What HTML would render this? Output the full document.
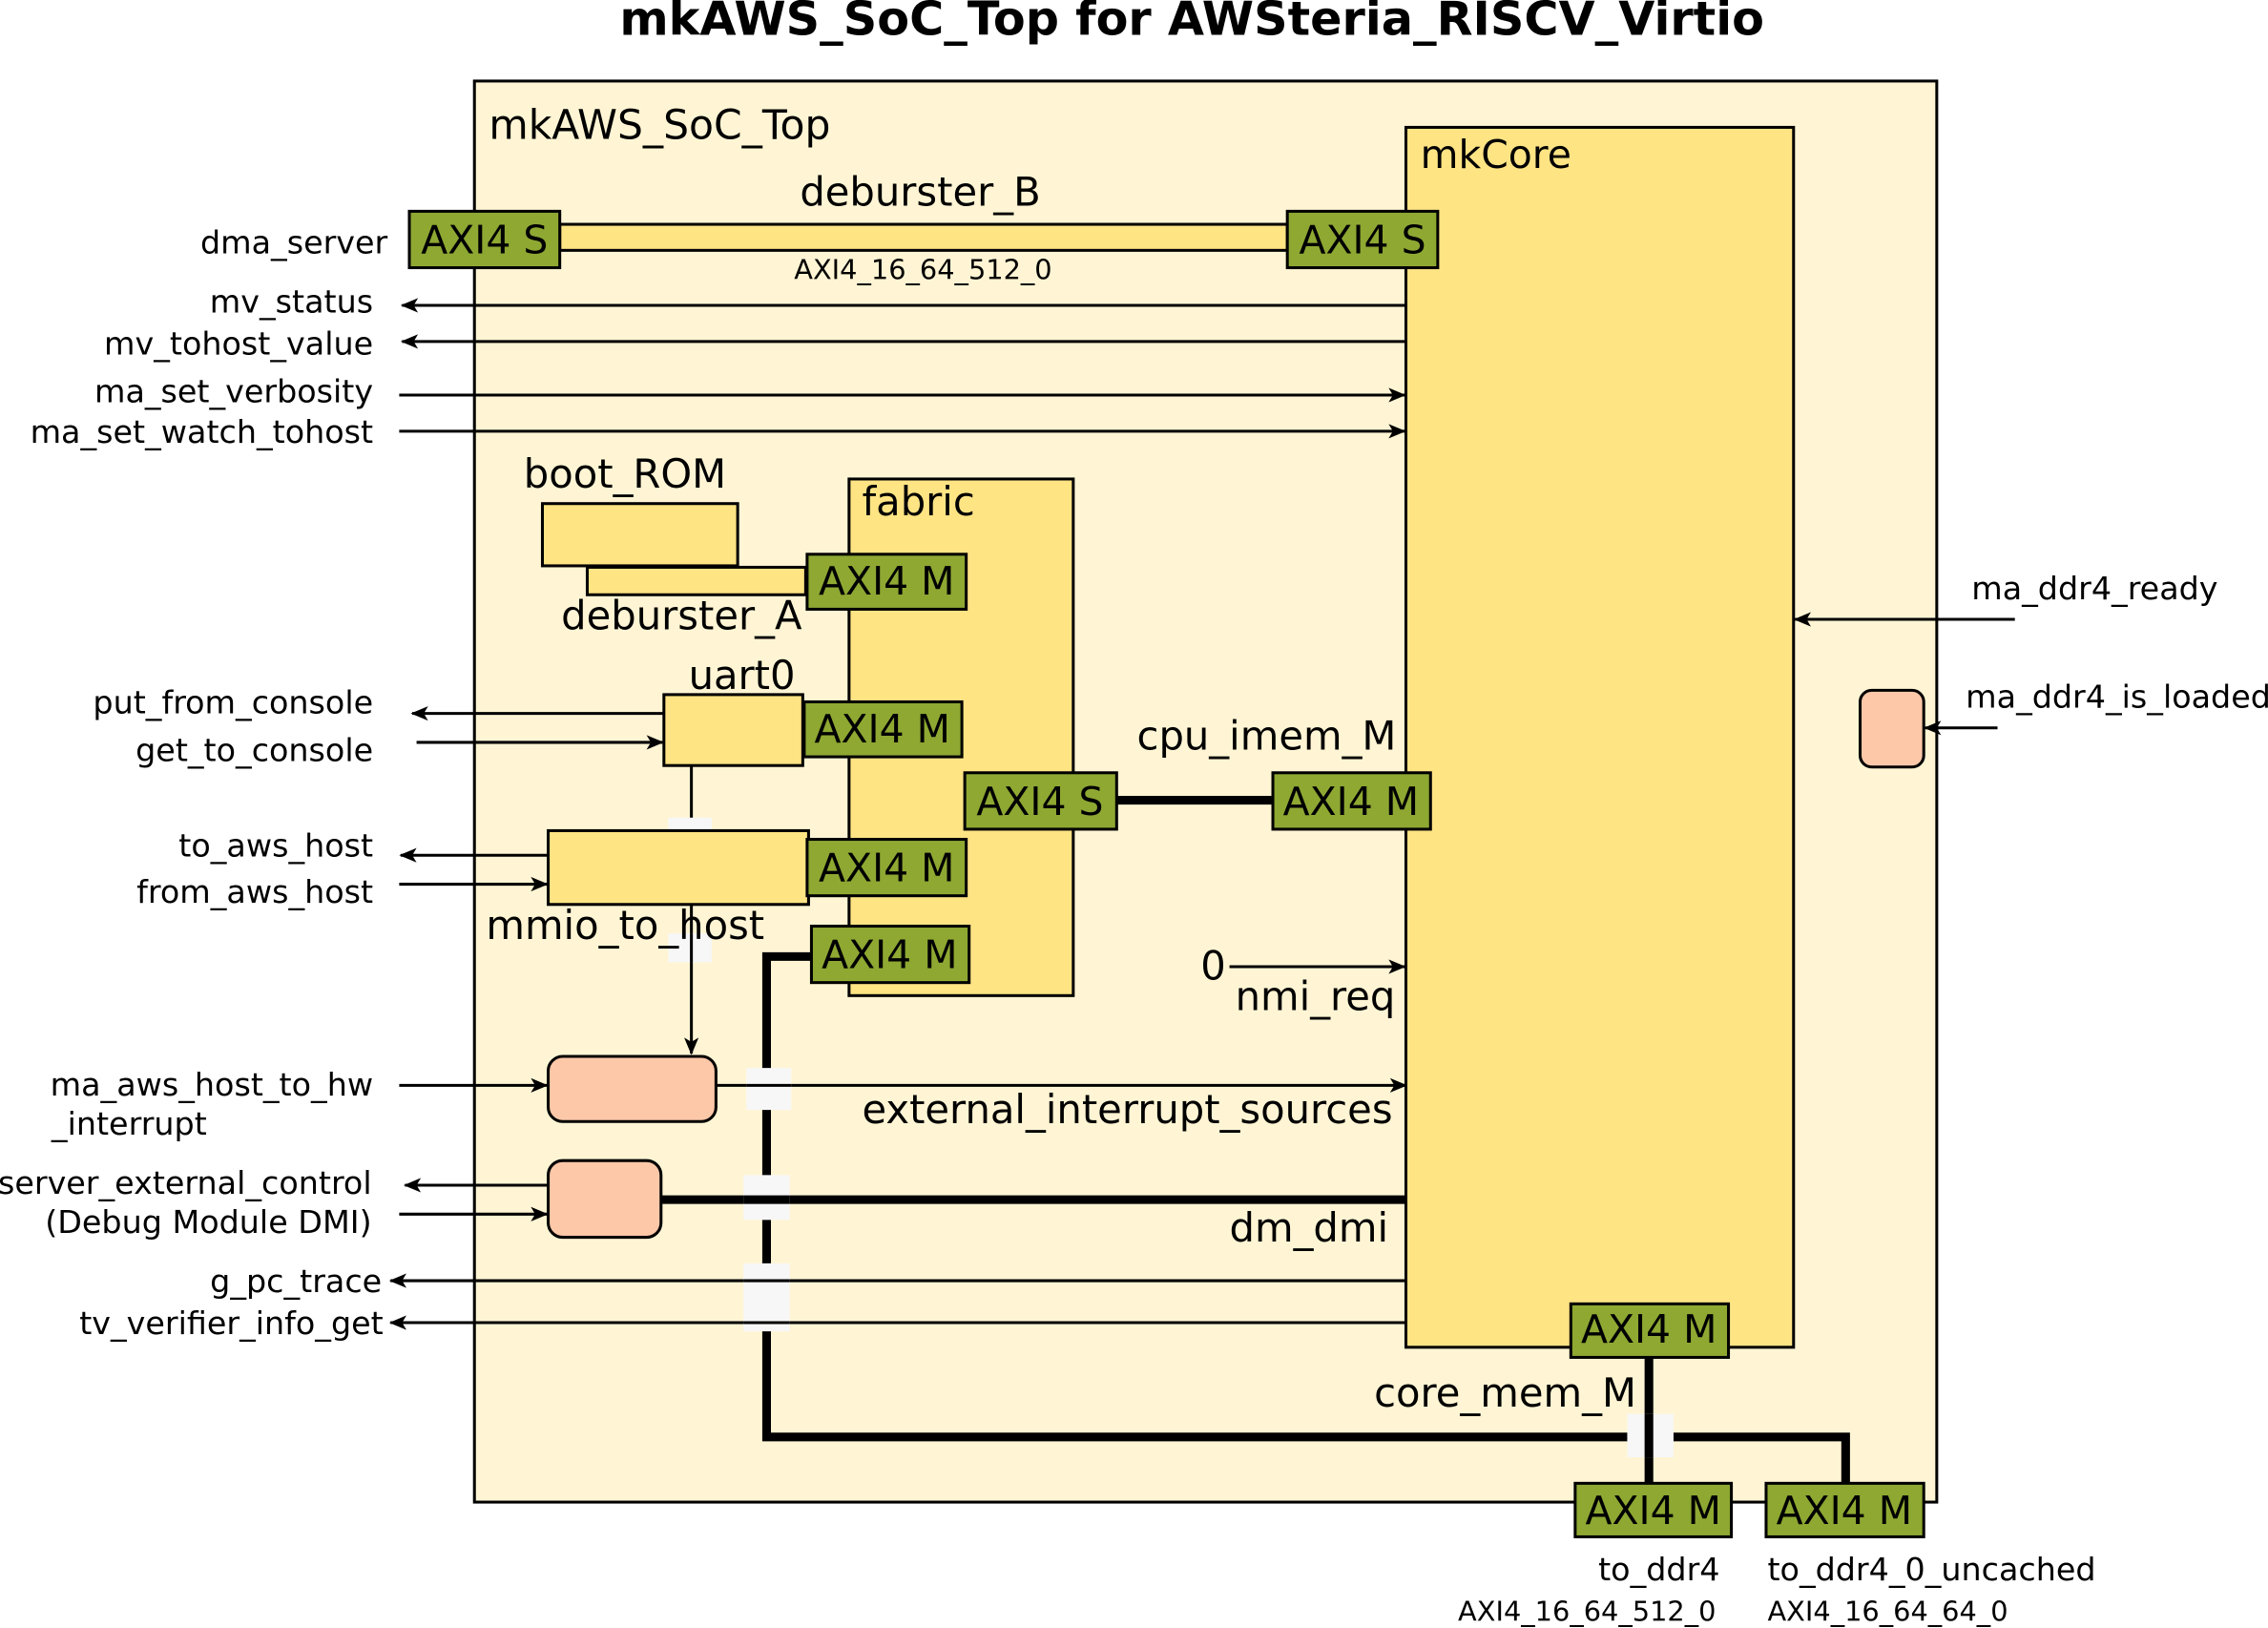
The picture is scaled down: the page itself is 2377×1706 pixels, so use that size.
<!DOCTYPE html>
<html><head><meta charset="utf-8"><style>
html,body{margin:0;padding:0;background:#fff;}
svg{display:block;}
text{font-family:"DejaVu Sans","Liberation Sans",sans-serif;fill:#000;}
</style></head><body>
<svg width="2377" height="1706" viewBox="0 0 1568 1125" preserveAspectRatio="none" xmlns="http://www.w3.org/2000/svg">
<defs>
<marker id="a" viewBox="0 0 12 10" refX="11" refY="5" markerWidth="12" markerHeight="10" markerUnits="userSpaceOnUse" orient="auto">
<path d="M0,0 L12,5 L0,10 L3,5 z" fill="#000"/></marker>
</defs>
<text x="824" y="24" font-size="32.5" font-weight="bold" text-anchor="middle">mkAWS_SoC_Top for AWSteria_RISCV_Virtio</text>
<rect x="328" y="56" width="1011" height="982" fill="#fff5d4" stroke="#000" stroke-width="2"/>
<text x="338" y="96" font-size="28">mkAWS_SoC_Top</text>
<rect x="972" y="88" width="268" height="843" fill="#ffe484" stroke="#000" stroke-width="2"/>
<text x="982" y="116" font-size="27">mkCore</text>

<g stroke="#000" stroke-width="2" fill="none">
<line x1="972" y1="211" x2="278" y2="211" marker-end="url(#a)"/>
<line x1="972" y1="236" x2="278" y2="236" marker-end="url(#a)"/>
<line x1="276" y1="273" x2="971" y2="273" marker-end="url(#a)"/>
<line x1="276" y1="298" x2="971" y2="298" marker-end="url(#a)"/>
<line x1="459" y1="493" x2="285" y2="493" marker-end="url(#a)"/>
<line x1="288" y1="513" x2="458" y2="513" marker-end="url(#a)"/>
<line x1="379" y1="591" x2="277" y2="591" marker-end="url(#a)"/>
<line x1="276" y1="611" x2="378" y2="611" marker-end="url(#a)"/>
<line x1="478" y1="529" x2="478" y2="728" marker-end="url(#a)"/>
<line x1="850" y1="668" x2="971" y2="668" marker-end="url(#a)"/>
<line x1="276" y1="750" x2="378" y2="750" marker-end="url(#a)"/>
<line x1="495" y1="750" x2="972" y2="750" marker-end="url(#a)"/>
<line x1="379" y1="819" x2="280" y2="819" marker-end="url(#a)"/>
<line x1="276" y1="839" x2="378" y2="839" marker-end="url(#a)"/>
<line x1="972" y1="885" x2="270" y2="885" marker-end="url(#a)"/>
<line x1="972" y1="914" x2="270" y2="914" marker-end="url(#a)"/>
<line x1="1393" y1="428" x2="1241" y2="428" marker-end="url(#a)"/>
<line x1="1381" y1="503" x2="1331" y2="503" marker-end="url(#a)"/>
</g>
<g stroke="#000" stroke-width="6" fill="none">
<line x1="772" y1="553" x2="880" y2="553"/>
<line x1="457" y1="829" x2="972" y2="829"/>
<polyline points="561,661 530,661 530,993 1276,993 1276,1025"/>
<line x1="1140" y1="938" x2="1140" y2="1025"/>
</g>
<g fill="#f7f7f7">
<rect x="462" y="565" width="30" height="9"/>
<rect x="462" y="645" width="30" height="20"/>
<rect x="516" y="738" width="31" height="29"/>
<rect x="514" y="812" width="32" height="31"/>
<rect x="514" y="873" width="32" height="47"/>
<rect x="1125" y="977" width="32" height="30"/>
</g>
<g stroke="#000" stroke-width="2"><line x1="478" y1="645" x2="478" y2="665"/><line x1="516" y1="750" x2="547" y2="750"/><line x1="514" y1="885" x2="546" y2="885"/><line x1="514" y1="914" x2="546" y2="914"/></g>
<g stroke="#000" stroke-width="6"><line x1="514" y1="829" x2="546" y2="829"/><line x1="1140" y1="977" x2="1140" y2="1007"/></g>

<g stroke="#000" stroke-width="2">
<rect x="387" y="155" width="503" height="18" fill="#ffe484"/>
<rect x="375" y="348" width="135" height="43" fill="#ffe484"/>
<rect x="406" y="392" width="151" height="19" fill="#ffe484"/>
<rect x="587" y="331" width="155" height="357" fill="#ffe484"/>
<rect x="459" y="480" width="96" height="49" fill="#ffe484"/>
<rect x="379" y="574" width="180" height="51" fill="#ffe484"/>
<rect x="379" y="730" width="116" height="45" rx="10" fill="#fdc8a8"/>
<rect x="379" y="802" width="78" height="53" rx="10" fill="#fdc8a8"/>
<rect x="1286" y="477" width="44" height="53" rx="8" fill="#fdc8a8"/>
</g>
<g stroke="#000" stroke-width="2" fill="#8ea832">
<rect x="283" y="146" width="104" height="39"/>
<rect x="890" y="146" width="104" height="39"/>
<rect x="558" y="383" width="110" height="38"/>
<rect x="556" y="485" width="109" height="38"/>
<rect x="558" y="580" width="110" height="39"/>
<rect x="561" y="640" width="109" height="39"/>
<rect x="667" y="534" width="105" height="39"/>
<rect x="880" y="534" width="109" height="39"/>
<rect x="1086" y="901" width="109" height="37"/>
<rect x="1089" y="1025" width="108" height="37"/>
<rect x="1221" y="1025" width="109" height="37"/>
</g>
<g font-size="27" text-anchor="middle">
<text x="335" y="175">AXI4 S</text>
<text x="942" y="175">AXI4 S</text>
<text x="613" y="411">AXI4 M</text>
<text x="610" y="513">AXI4 M</text>
<text x="613" y="609">AXI4 M</text>
<text x="615" y="669">AXI4 M</text>
<text x="719" y="563">AXI4 S</text>
<text x="934" y="563">AXI4 M</text>
<text x="1140" y="928">AXI4 M</text>
<text x="1143" y="1053">AXI4 M</text>
<text x="1275" y="1053">AXI4 M</text>
</g>
<g font-size="27.5">
<text x="553" y="142">deburster_B</text>
<text x="362" y="337">boot_ROM</text>
<text x="388" y="435">deburster_A</text>
<text x="596" y="356">fabric</text>
<text x="476" y="476">uart0</text>
<text x="336" y="649">mmio_to_host</text>
<text x="786" y="518">cpu_imem_M</text>
<text x="830" y="677">0</text>
<text x="854" y="698">nmi_req</text>
<text x="596" y="776">external_interrupt_sources</text>
<text x="850" y="858">dm_dmi</text>
<text x="950" y="972">core_mem_M</text>
</g>
<g font-size="19">
<text x="549" y="193">AXI4_16_64_512_0</text>
<text x="1008" y="1120">AXI4_16_64_512_0</text>
<text x="1222" y="1120">AXI4_16_64_64_0</text>
</g>
<g font-size="22" text-anchor="end">
<text x="268" y="175">dma_server</text>
<text x="258" y="216">mv_status</text>
<text x="258" y="245">mv_tohost_value</text>
<text x="258" y="278">ma_set_verbosity</text>
<text x="258" y="306">ma_set_watch_tohost</text>
<text x="258" y="493">put_from_console</text>
<text x="258" y="526">get_to_console</text>
<text x="258" y="592">to_aws_host</text>
<text x="258" y="624">from_aws_host</text>
<text x="258" y="757">ma_aws_host_to_hw</text>
<text x="143" y="784">_interrupt</text>
<text x="257" y="825">server_external_control</text>
<text x="257" y="852">(Debug Module DMI)</text>
<text x="264" y="893">g_pc_trace</text>
<text x="265" y="922">tv_verifier_info_get</text>
</g>
<g font-size="22">
<text x="1363" y="414">ma_ddr4_ready</text>
<text x="1359" y="489">ma_ddr4_is_loaded</text>
<text x="1105" y="1092">to_ddr4</text>
<text x="1222" y="1092">to_ddr4_0_uncached</text>
</g>
</svg>
</body></html>
